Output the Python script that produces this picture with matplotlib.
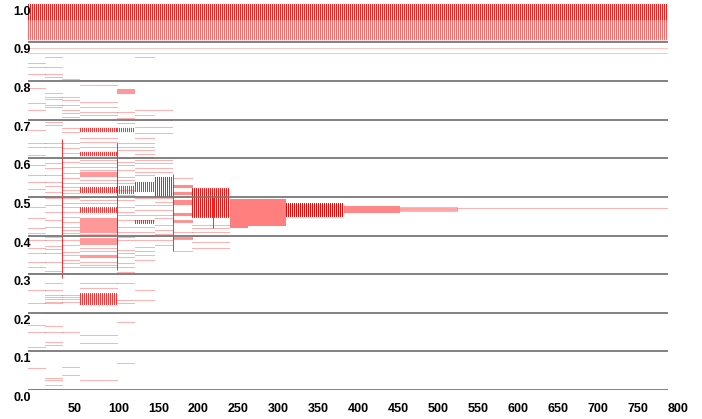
import matplotlib
matplotlib.use("Agg")
import matplotlib.pyplot as plt

# x spans of the sample groups (start, end)
span_start = [0, 21, 42, 65, 111, 134, 159, 181, 205, 252, 275, 322, 395, 465, 536]
span_end = [21, 42, 65, 111, 134, 159, 181, 205, 252, 275, 322, 395, 465, 536, 800]

# single dotted rows in each span
rows_0 = [0.847, 0.837, 0.819, 0.782, 0.744, 0.725, 0.674, 0.640, 0.630, 0.609,
          0.583, 0.557, 0.539, 0.521, 0.500, 0.474, 0.446, 0.420, 0.407, 0.389,
          0.368, 0.355, 0.332, 0.319, 0.303, 0.259, 0.225, 0.168, 0.150, 0.111,
          0.057, 0.003]
rows_1 = [0.863, 0.837, 0.819, 0.811, 0.769, 0.759, 0.754, 0.738, 0.733, 0.694,
          0.687, 0.640, 0.630, 0.588, 0.575, 0.557, 0.539, 0.528, 0.513, 0.497,
          0.479, 0.461, 0.440, 0.422, 0.396, 0.389, 0.373, 0.365, 0.355, 0.332,
          0.308, 0.277, 0.259, 0.246, 0.241, 0.236, 0.228, 0.225, 0.199, 0.166,
          0.150, 0.124, 0.117, 0.031, 0.026, 0.013, 0.003]
rows_2 = [0.806, 0.759, 0.751, 0.738, 0.725, 0.717, 0.707, 0.699, 0.679, 0.668,
          0.640, 0.627, 0.614, 0.601, 0.591, 0.578, 0.563, 0.550, 0.536, 0.526,
          0.518, 0.510, 0.497, 0.484, 0.474, 0.461, 0.448, 0.435, 0.422, 0.414,
          0.407, 0.389, 0.376, 0.358, 0.350, 0.337, 0.329, 0.319, 0.303, 0.246,
          0.241, 0.236, 0.228, 0.199, 0.150, 0.059, 0.039]
rows_3 = [0.803, 0.790, 0.746, 0.733, 0.720, 0.712, 0.653, 0.642, 0.630, 0.596,
          0.588, 0.578, 0.570, 0.544, 0.536, 0.500, 0.492, 0.484, 0.404, 0.399,
          0.368, 0.360, 0.332, 0.324, 0.319, 0.277, 0.264, 0.199, 0.142, 0.122,
          0.026]
rows_4 = [0.720, 0.705, 0.692, 0.640, 0.630, 0.622, 0.601, 0.591, 0.583, 0.570,
          0.552, 0.544, 0.536, 0.518, 0.505, 0.492, 0.474, 0.461, 0.453, 0.440,
          0.422, 0.409, 0.396, 0.389, 0.363, 0.355, 0.345, 0.329, 0.319, 0.306,
          0.277, 0.233, 0.225, 0.176, 0.070]
rows_5 = [0.863, 0.725, 0.712, 0.699, 0.681, 0.666, 0.653, 0.640, 0.630, 0.622,
          0.612, 0.604, 0.596, 0.588, 0.575, 0.565, 0.557, 0.497, 0.479, 0.466,
          0.453, 0.440, 0.422, 0.409, 0.399, 0.389, 0.370, 0.360, 0.350, 0.337,
          0.259, 0.233]
rows_6 = [0.725, 0.699, 0.681, 0.666, 0.596, 0.588, 0.575, 0.565, 0.497, 0.487,
          0.479, 0.466, 0.453, 0.446, 0.427, 0.414, 0.404, 0.389, 0.376]
rows_7 = [0.549, 0.409, 0.360]
rows_8 = [0.427, 0.420, 0.409, 0.399, 0.383, 0.368]
rows_14 = [0.4707]

# dense blocks of samples (low, high) in each span
bands_3 = [(0.668, 0.679), (0.606, 0.617), (0.552, 0.565), (0.510, 0.526),
           (0.459, 0.474), (0.407, 0.446), (0.376, 0.394), (0.342, 0.350),
           (0.220, 0.251)]
bands_4 = [(0.769, 0.782), (0.668, 0.679), (0.507, 0.528)]
bands_5 = [(0.513, 0.539), (0.430, 0.440)]
bands_6 = [(0.500, 0.552)]
bands_7 = [(0.523, 0.531), (0.505, 0.513), (0.479, 0.492), (0.453, 0.461),
           (0.433, 0.440), (0.389, 0.396)]
bands_8 = [(0.446, 0.523)]
bands_9 = [(0.422, 0.497)]
bands_10 = [(0.427, 0.497)]
bands_11 = [(0.448, 0.484)]
bands_12 = [(0.459, 0.477)]
bands_13 = [(0.462, 0.474)]

# how strongly each span's blocks are packed
band_alpha = [0.8, 0.8, 0.8, 0.8, 0.8, 0.85, 0.9, 0.9, 0.95, 1.0, 1.0, 1.0,
              0.95, 0.7, 0.7]

# rows and blocks that run across the whole range
full_rows = [0.886, 0.873]
top_band_hi = [1.0, 0.958]
top_band_lo = [0.958, 0.905]
top_band_alpha = [0.9, 0.6]

# columns of samples sharing one x value
vline_x = [42, 111, 181, 231]
vline_lo = [0.29, 0.31, 0.36, 0.42]
vline_hi = [0.65, 0.64, 0.56, 0.50]

x_ticks = [50, 100, 150, 200, 250, 300, 350, 400, 450, 500, 550, 600, 650, 700, 750, 800]
y_ticks = [0.0, 0.1, 0.2, 0.3, 0.4, 0.5, 0.6, 0.7, 0.8, 0.9, 1.0]

all_rows = [rows_0, rows_1, rows_2, rows_3, rows_4, rows_5, rows_6, rows_7,
            rows_8, [], [], [], [], [], rows_14]
all_bands = [[], [], [], bands_3, bands_4, bands_5, bands_6, bands_7, bands_8,
             bands_9, bands_10, bands_11, bands_12, bands_13, []]

plt.rcParams["font.family"] = ["Liberation Sans", "DejaVu Sans"]
plt.rcParams["lines.scale_dashes"] = False

fig = plt.figure(figsize=(7.02, 4.19), dpi=100)
ax = fig.add_axes([28 / 702, 29 / 419, 640 / 702, 386.2 / 419])
ax.set_xlim(0, 800)
ax.set_ylim(0, 1.0)

# one pixel on, one pixel off
px = 72 / fig.dpi
dots = (0, (px, px))
px_per_y = ax.bbox.height


def band(x0, x1, lo, hi, alpha):
    # a thick dotted stroke gives the column-striped look of packed rows
    lw = (hi - lo) * px_per_y * px
    ax.hlines((lo + hi) / 2, x0, x1, colors="red", linewidth=lw, linestyles=dots,
              alpha=alpha, capstyle="butt", snap=True)


for x0, x1, ys, bands, a in zip(span_start, span_end, all_rows, all_bands, band_alpha):
    if ys:
        ax.hlines(ys, x0, x1, colors="red", linestyles=dots, linewidth=px,
                  alpha=0.6, snap=True)
    for lo, hi in bands:
        band(x0, x1, lo, hi, a)

ax.hlines(full_rows, 0, 800, colors="red", linestyles=dots, linewidth=px,
          alpha=0.45, snap=True)
for hi, lo, a in zip(top_band_hi, top_band_lo, top_band_alpha):
    band(0, 800, lo, hi, a)

ax.vlines(vline_x, vline_lo, vline_hi, colors="red", linewidth=px, alpha=0.8,
          snap=True)

# grey rules at every tenth
for v in y_ticks[:-1]:
    ax.axhline(v, color="#777777", linewidth=1.3, zorder=5)

for s in ax.spines.values():
    s.set_visible(False)
ax.set_yticks([])
ax.set_xticks(x_ticks)
ax.set_xticklabels([str(t) for t in x_ticks], ha="left", fontsize=9, fontweight="bold")
ax.tick_params(axis="x", length=0, pad=9.5)

for v in y_ticks:
    ax.annotate(f"{v:.1f}", xy=(0, v), xycoords=("axes fraction", "data"),
                xytext=(3, -2), textcoords="offset pixels", ha="right", va="top",
                fontsize=9, fontweight="bold", annotation_clip=False)

fig.savefig("out.png", dpi=100)
